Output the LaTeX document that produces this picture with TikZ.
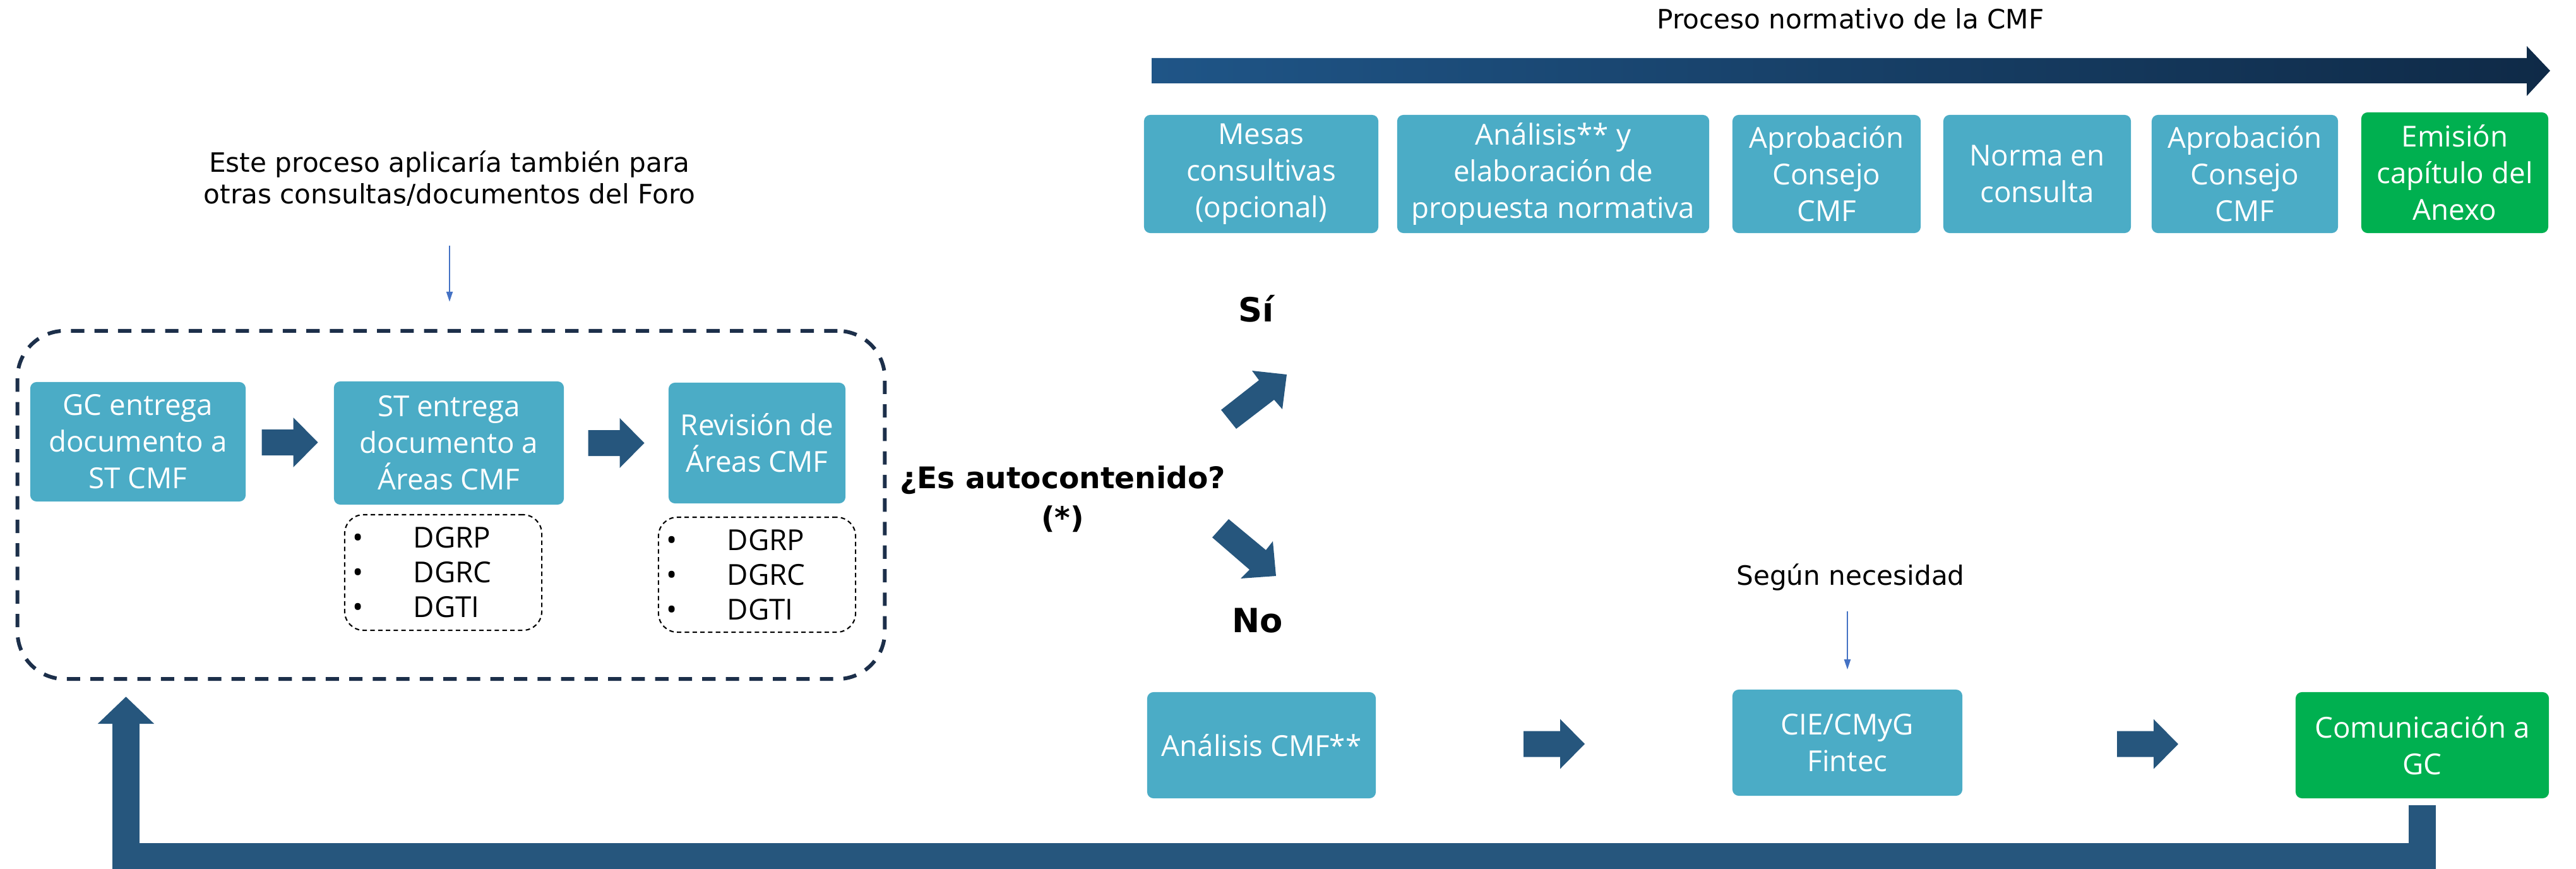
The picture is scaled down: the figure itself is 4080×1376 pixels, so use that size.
\documentclass[tikz,border=0pt]{standalone}
\usepackage{fontspec}
\setmainfont{Open Sans}
\newfontfamily\verd{DejaVu Sans}
\usetikzlibrary{arrows.meta,calc}
\definecolor{boxteal}{HTML}{4BACC6}
\definecolor{boxgreen}{HTML}{00B050}
\definecolor{arrc}{HTML}{26567D}
\definecolor{dashc}{HTML}{1C2F4A}
\definecolor{thinc}{HTML}{4472C4}
\definecolor{gradL}{HTML}{1F5587}
\definecolor{gradR}{HTML}{0F2A47}
\tikzset{
  box/.style={rectangle, rounded corners=0.1cm, fill=boxteal, text=white, align=center, inner sep=0pt,
    font=\fontsize{13}{16.5}\selectfont},
  gbox/.style={box, fill=boxgreen},
  lst/.style={rectangle, draw=black, line width=0.6pt, dash pattern=on 2pt off 1.5pt, rounded corners=0.3cm,
    align=left, inner xsep=0.13cm, inner ysep=0pt, text width=2.86cm, font=\fontsize{13}{15.6}\selectfont},
  verdtxt/.style={font=\verd\fontsize{12}{14.2}\selectfont, align=center, inner sep=0pt},
  boldtxt/.style={font=\verd\bfseries\fontsize{13.4}{18}\selectfont, align=center, inner sep=0pt},
  bigtxt/.style={font=\verd\bfseries\fontsize{15}{18}\selectfont, inner sep=0pt},
  thinarr/.style={draw=thinc, line width=0.6pt, -{Triangle[width=0.1cm,length=0.16cm]}},
  blk/.pic={\fill[arrc] (-44.5,-20.5) -- (5.5,-20.5) -- (5.5,-39.5) -- (44.5,0) -- (5.5,39.5) -- (5.5,20.5) -- (-44.5,20.5) -- cycle;},
  blkl/.pic={\fill[arrc] (-48.5,-20.5) -- (9.5,-20.5) -- (9.5,-39.5) -- (48.5,0) -- (9.5,39.5) -- (9.5,20.5) -- (-48.5,20.5) -- cycle;}
}
\newcommand{\bl}{\makebox[0.96cm][l]{•}}
\begin{document}
\begin{tikzpicture}[x=0.01cm,y=-0.01cm]
\useasboundingbox (0,0) rectangle (4080,1376);

% timeline arrow
\node[verdtxt, anchor=base] (proc) at (2931,46) {Proceso normativo de la CMF};
\shade[left color=gradL, right color=gradR] (1824,92) -- (4002,92) -- (4002,73) -- (4039,112) -- (4002,152) -- (4002,132) -- (1824,132) -- cycle;

% top row
\node[box, minimum width=3.71cm, minimum height=1.87cm] (mesas) at (1997.5,275.5) {Mesas\\consultivas\\(opcional)};
\node[box, minimum width=4.94cm, minimum height=1.87cm] (anal) at (2460,275.5) {Análisis** y\\elaboración de\\propuesta normativa};
\node[box, minimum width=2.98cm, minimum height=1.87cm] (ap1) at (2893,275.5) {Aprobación\\Consejo\\CMF};
\node[box, minimum width=2.97cm, minimum height=1.87cm] (norma) at (3226.5,275.5) {Norma en\\consulta};
\node[box, minimum width=2.95cm, minimum height=1.87cm] (ap2) at (3555.5,275.5) {Aprobación\\Consejo\\CMF};
\node[gbox, minimum width=2.96cm, minimum height=1.91cm] (emis) at (3888,273.5) {Emisión\\capítulo del\\Anexo};

% left block
\node[verdtxt] (note1) at (712,283) {Este proceso aplicaría también para\\otras consultas/documentos del Foro};
\node[draw=dashc, line width=1.7pt, dash pattern=on 6pt off 4.6pt, rounded corners=0.75cm,
  minimum width=13.73cm, minimum height=5.51cm, inner sep=0pt] (dbox) at (714.5,799.5) {};
\draw[thinarr] ([yshift=-0.61cm]note1.south) -- ([yshift=0.43cm]note1.south |- dbox.north);

\node[box, minimum width=3.41cm, minimum height=1.89cm] (gc) at (218.5,699.5) {GC entrega\\documento a\\ST CMF};
\node[box, minimum width=3.64cm, minimum height=1.95cm] (st) at (711,701.5) {ST entrega\\documento a\\Áreas CMF};
\node[box, minimum width=2.80cm, minimum height=1.91cm] (rev) at (1199,701.5) {Revisión de\\Áreas CMF};
\pic at ($(gc.east)!0.5!(st.west)$) {blk};
\pic at ($(st.east)!0.5!(rev.west)$) {blk};

\node[lst, minimum width=3.12cm, minimum height=1.83cm] (l1) at (702,906.5) {\bl DGRP\\\bl DGRC\\\bl DGTI};
\node[lst, minimum width=3.12cm, minimum height=1.82cm] (l2) at (1199,910) {\bl DGRP\\\bl DGRC\\\bl DGTI};

% decision
\node[boldtxt] (q) at (1683,790) {¿Es autocontenido?\\(*)};
\node[bigtxt, anchor=base] (si) at (1990,509) {Sí};
\node[bigtxt, anchor=base] (no) at (1992,1001) {No};
\fill[arrc] (1934,649) -- (1994,602) -- (1983,587) -- (2038,593) -- (2031,648) -- (2018,633) -- (1958,679) -- cycle;
\fill[arrc] (1946,822) -- (2005,871) -- (2016,857) -- (2021,912) -- (1965,916) -- (1979,902) -- (1920,851) -- cycle;

% bottom row
\node[box, minimum width=3.62cm, minimum height=1.68cm] (acmf) at (1998,1180) {Análisis CMF**};
\node[box, minimum width=3.64cm, minimum height=1.68cm] (cie) at (2926,1176) {CIE/CMyG\\Fintec};
\node[gbox, minimum width=4.01cm, minimum height=1.68cm] (com) at (3836.5,1180) {Comunicación a\\GC};
\node[verdtxt, anchor=base] (nec) at (2931,926) {Según necesidad};
\draw[thinarr] ([yshift=-0.32cm]cie.north |- nec.south) -- ([yshift=0.31cm]cie.north);
\pic at ($(acmf.east)!0.5!(cie.west)$) {blkl};
\pic at ($(cie.east)!0.556!(com.west)$) {blkl};

% return arrow
\coordinate (retcorner) at (199.5,1357);
\path (retcorner |- dbox.south) coordinate (rettip0);
\draw[arrc, line width=0.43cm, line join=miter, -{Triangle[width=0.87cm,length=0.43cm]}]
  ([yshift=-0.1cm]com.south) |- (retcorner) -- ([yshift=-0.25cm]rettip0);
\end{tikzpicture}
\end{document}
